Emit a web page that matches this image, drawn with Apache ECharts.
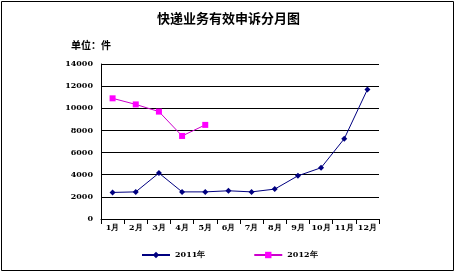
<!DOCTYPE html>
<html><head><meta charset="utf-8">
<script src="https://cdn.jsdelivr.net/npm/echarts@6/dist/echarts.min.js"></script>
<style>html,body{margin:0;padding:0;background:#fff}#c{width:457px;height:274px}</style>
</head><body><div id="c"></div>
<script>
const months = ['1月','2月','3月','4月','5月','6月','7月','8月','9月','10月','11月','12月'];
const s2011 = [2400, 2450, 4150, 2450, 2450, 2550, 2450, 2700, 3900, 4630, 7250, 11700];
const s2012 = [10900, 10350, 9700, 7500, 8500];
const yTicks = [0, 2000, 4000, 6000, 8000, 10000, 12000, 14000];
const chart = echarts.init(document.getElementById('c'));
chart.setOption({
  animation: false,
  backgroundColor: '#fff',
  title: [
    {text: '快递业务有效申诉分月图', left: 'center', top: 7,
     textStyle: {fontSize: 13, fontWeight: 'bold', color: '#000', fontFamily: 'Noto Sans CJK SC'}},
    {text: '单位：件', left: 66, top: 35,
     textStyle: {fontSize: 10, fontWeight: 'bold', color: '#000', fontFamily: 'Noto Sans CJK SC'}}
  ],
  graphic: [{type: 'rect', shape: {x: 1.5, y: 1.5, width: 452, height: 269},
    style: {fill: 'none', stroke: '#000', lineWidth: 1}}],
  legend: {
    bottom: 10, left: 136, itemGap: 48, itemWidth: 28, itemHeight: 8,
    textStyle: {fontSize: 8, fontWeight: 'bold', color: '#000', fontFamily: 'DejaVu Serif'},
    data: ['2011年', '2012年']
  },
  grid: {left: 101, right: 78, top: 64, bottom: 55},
  xAxis: {
    type: 'category', data: months, boundaryGap: true,
    axisLine: {lineStyle: {color: '#000', width: 1}},
    axisTick: {show: true, alignWithLabel: false, lineStyle: {color: '#000'}},
    axisLabel: {fontSize: 8, fontWeight: 'bold', color: '#000', margin: 5, interval: 0, fontFamily: 'DejaVu Serif'}
  },
  yAxis: {
    type: 'value', min: 0, max: 14000, interval: 2000,
    axisLine: {show: true, lineStyle: {color: '#000'}},
    axisTick: {show: false},
    splitLine: {lineStyle: {color: '#000', width: 1}},
    axisLabel: {fontSize: 8, fontWeight: 'bold', color: '#000', margin: 8, fontFamily: 'DejaVu Serif',
      formatter: v => String(v)}
  },
  series: [
    {name: '2011年', type: 'line', data: s2011, symbol: 'diamond', symbolSize: 6,
     itemStyle: {color: '#000080'}, lineStyle: {color: '#000080', width: 1}},
    {name: '2012年', type: 'line', data: s2012, symbol: 'rect', symbolSize: 6,
     itemStyle: {color: '#FF00FF'}, lineStyle: {color: '#CC00CC', width: 1}}
  ]
});
</script></body></html>
